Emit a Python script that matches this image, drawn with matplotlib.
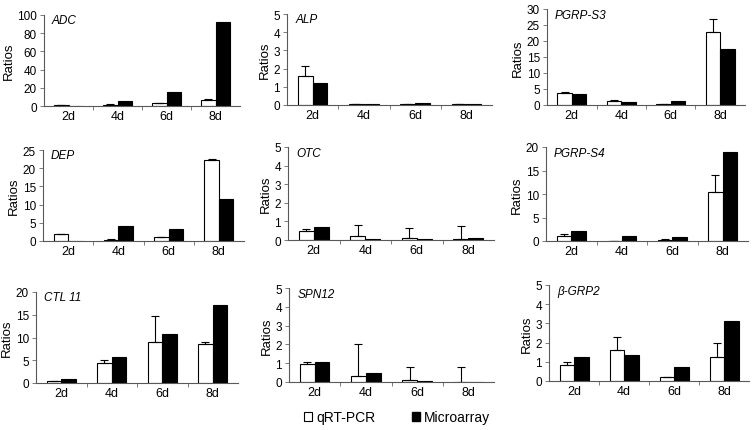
import numpy as np
import matplotlib
matplotlib.use('Agg')
import matplotlib.pyplot as plt
from matplotlib.patches import Patch

plt.rcParams['font.family'] = ['Liberation Sans', 'DejaVu Sans']

days = ['2d', '4d', '6d', '8d']

# gene panels
genes = ['ADC', 'ALP', 'PGRP-S3', 'DEP', 'OTC', 'PGRP-S4', 'CTL 11', 'SPN12', 'β-GRP2']

adc_q = [1.0, 1.5, 3.0, 7.0]
adc_qerr = [0.2, 0.3, 0.4, 0.5]
adc_m = [0.4, 6.0, 15.0, 92.0]

alp_q = [1.6, 0.03, 0.08, 0.03]
alp_qerr = [0.55, 0.0, 0.0, 0.0]
alp_m = [1.2, 0.08, 0.12, 0.03]

s3_q = [3.7, 1.2, 0.2, 22.8]
s3_qerr = [0.5, 0.3, 0.1, 4.2]
s3_m = [3.3, 0.9, 1.1, 17.6]

dep_q = [1.8, 0.4, 1.0, 22.2]
dep_qerr = [0.1, 0.1, 0.2, 0.4]
dep_m = [0.05, 4.0, 3.2, 11.5]

otc_q = [0.5, 0.22, 0.12, 0.08]
otc_qerr = [0.08, 0.58, 0.55, 0.65]
otc_m = [0.7, 0.03, 0.03, 0.13]

s4_q = [1.0, 0.05, 0.3, 10.4]
s4_qerr = [0.5, 0.0, 0.1, 3.7]
s4_m = [2.2, 1.0, 0.8, 18.9]

ctl_q = [0.5, 4.3, 9.0, 8.6]
ctl_qerr = [0.0, 0.8, 5.8, 0.5]
ctl_m = [0.9, 5.7, 10.8, 17.2]

spn_q = [0.97, 0.3, 0.1, 0.01]
spn_qerr = [0.08, 1.7, 0.68, 0.77]
spn_m = [1.08, 0.48, 0.05, 0.02]

grp_q = [0.82, 1.6, 0.2, 1.25]
grp_qerr = [0.15, 0.67, 0.03, 0.72]
grp_m = [1.25, 1.33, 0.75, 3.15]

ymaxs = [100, 5, 30, 25, 5, 20, 20, 5, 5]
ysteps = [20, 1, 5, 5, 1, 5, 5, 1, 1]

qdata = [adc_q, alp_q, s3_q, dep_q, otc_q, s4_q, ctl_q, spn_q, grp_q]
qerrs = [adc_qerr, alp_qerr, s3_qerr, dep_qerr, otc_qerr, s4_qerr, ctl_qerr, spn_qerr, grp_qerr]
mdata = [adc_m, alp_m, s3_m, dep_m, otc_m, s4_m, ctl_m, spn_m, grp_m]

W, H = 756, 431
# axes boxes in pixels: left, top, right, bottom
boxes = [(44, 16, 240, 107), (287, 15, 492, 106), (547, 10, 745, 106),
         (43, 151, 244, 242), (288, 148, 494, 241), (546, 148, 748, 242),
         (36, 293, 238, 384), (289, 289, 494, 383), (549, 286, 749, 382)]

fig = plt.figure(figsize=(W / 100, H / 100), dpi=100)

x = np.arange(4)
bw = 0.29
for i in range(9):
    l, t, r, b = boxes[i]
    ax = fig.add_axes([l / W, 1 - b / H, (r - l) / W, (b - t) / H])
    ax.bar(x - bw / 2, qdata[i], bw, color='white', edgecolor='black', linewidth=0.8,
           yerr=[np.zeros(4), qerrs[i]], error_kw=dict(ecolor='black', elinewidth=0.8,
                                                       capsize=3, capthick=0.8))
    ax.bar(x + bw / 2, mdata[i], bw, color='black', edgecolor='black', linewidth=0.8)
    ax.set_xlim(-0.5, 3.5)
    ax.set_ylim(0, ymaxs[i])
    ax.set_yticks(np.arange(0, ymaxs[i] + 0.01, ysteps[i]))
    ax.set_xticks(x)
    ax.set_xticklabels(days)
    ax.set_xticks([0.5, 1.5, 2.5], minor=True)
    ax.tick_params(axis='x', which='major', length=0, labelsize=9, pad=3)
    ax.tick_params(axis='x', which='minor', length=3, direction='out', width=0.6, color='0.4')
    ax.tick_params(axis='y', length=3, width=0.6, labelsize=8.5, pad=2, color='0.4')
    for s in ['top', 'right']:
        ax.spines[s].set_visible(False)
    for s in ['left', 'bottom']:
        ax.spines[s].set_linewidth(0.8)
        ax.spines[s].set_color('0.35')
    ax.set_ylabel('Ratios', fontsize=9.5, labelpad=2)
    ax.text(0.04, 0.94, genes[i], transform=ax.transAxes, fontsize=8.5,
            style='italic', va='center', ha='left')

handles = [Patch(facecolor='white', edgecolor='black', linewidth=0.8),
           Patch(facecolor='black', edgecolor='black')]
fig.legend(handles, ['qRT-PCR', 'Microarray'], loc='center', ncol=2,
           bbox_to_anchor=(397 / W, 1 - 418 / H), frameon=False, fontsize=10,
           handlelength=0.6, handleheight=0.6, handletextpad=0.3, columnspacing=2.6)

fig.savefig('out.png', dpi=100)
